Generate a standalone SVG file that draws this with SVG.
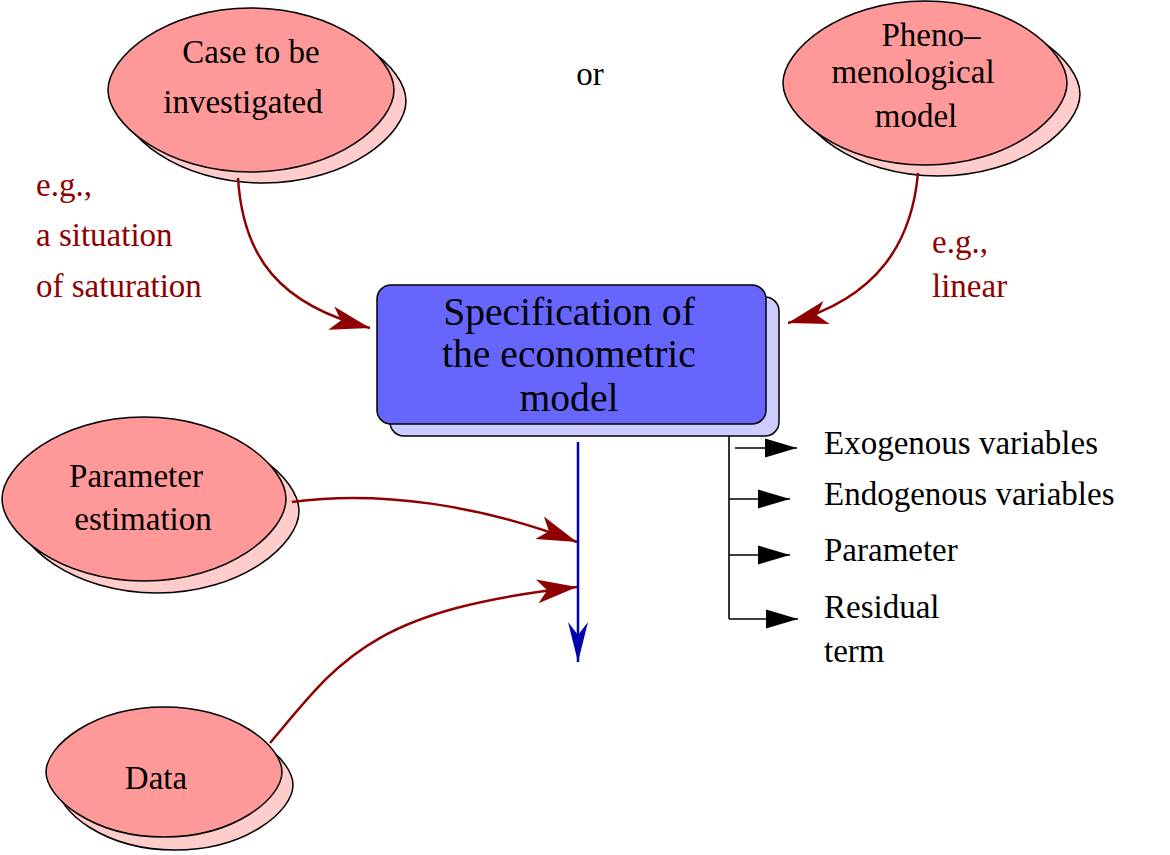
<svg xmlns="http://www.w3.org/2000/svg" width="1170" height="855" viewBox="0 0 1170 855" font-family="'Liberation Serif', 'Times New Roman', serif">
<style>
text{font-size:33px;fill:#000}
.big{font-size:39.6px}
.mid{text-anchor:middle}
.red{fill:#8f0000}
.ell{fill:#ff9999;stroke:#000;stroke-width:1.5}
.ellsh{fill:#ffcccc;stroke:#000;stroke-width:1.5}
.box{fill:#6666ff;stroke:#000;stroke-width:1.5}
.boxsh{fill:#ccccff;stroke:#000;stroke-width:1.5}
.rc{fill:none;stroke:#8f0000;stroke-width:2.5}
.bc{fill:none;stroke:#0000b0;stroke-width:2.5}
.kc{fill:none;stroke:#000;stroke-width:1.6}
</style>
<defs>
<marker id="ahRed" markerUnits="userSpaceOnUse" markerWidth="50" markerHeight="30" refX="0" refY="0" orient="auto" overflow="visible"><path d="M0,0 L-40,-12 L-30,0 L-40,12 Z" fill="#8f0000"/></marker>
<marker id="ahBlue" markerUnits="userSpaceOnUse" markerWidth="50" markerHeight="30" refX="0" refY="0" orient="auto" overflow="visible"><path d="M0,0 L-40,-10 L-27,0 L-40,10 Z" fill="#0000b0"/></marker>
<marker id="ahBlack" markerUnits="userSpaceOnUse" markerWidth="40" markerHeight="20" refX="0" refY="0" orient="auto" overflow="visible"><path d="M0,0 L-32,-9.5 L-32,9.5 Z" fill="#000"/></marker>
</defs>
<rect width="1170" height="855" fill="#fff"/>

<g id="node-case">
<path class="ellsh" transform="translate(12,11)" d="M108,90 C108,57 165,8 251,8 C337,8 394,57 394,90 C394,123 337,172 251,172 C165,172 108,123 108,90Z"/>
<path class="ell" d="M108,90 C108,57 165,8 251,8 C337,8 394,57 394,90 C394,123 337,172 251,172 C165,172 108,123 108,90Z"/>
<text class="mid" x="251" y="63">Case to be</text>
<text class="mid" x="243" y="113">investigated</text>
</g>

<g id="node-or">
<text class="mid" x="590" y="85">or</text>
</g>

<g id="node-pheno">
<path class="ellsh" transform="translate(13,11)" d="M783,83 C783,50 840,1 925,1 C1010,1 1067,50 1067,83 C1067,116 1010,165 925,165 C840,165 783,116 783,83Z"/>
<path class="ell" d="M783,83 C783,50 840,1 925,1 C1010,1 1067,50 1067,83 C1067,116 1010,165 925,165 C840,165 783,116 783,83Z"/>
<text class="mid" x="931" y="46">Pheno–</text>
<text class="mid" x="913" y="83">menological</text>
<text class="mid" x="916" y="127">model</text>
</g>

<g id="label-left">
<text class="red" x="36" y="196">e.g.,</text>
<text class="red" x="36" y="246">a situation</text>
<text class="red" x="36" y="297">of saturation</text>
</g>

<g id="label-right">
<text class="red" x="932" y="253">e.g.,</text>
<text class="red" x="932" y="297">linear</text>
</g>

<g id="node-spec">
<rect class="boxsh" x="390" y="297" width="389" height="139" rx="14"/>
<rect class="box" x="377" y="285" width="389" height="139" rx="14"/>
<text class="mid big" x="569" y="325">Specification of</text>
<text class="mid big" x="569" y="367">the econometric</text>
<text class="mid big" x="569" y="411">model</text>
</g>

<g id="node-param">
<path class="ellsh" transform="translate(13,12)" d="M2,499 C2,466 59,417 144,417 C229,417 286,466 286,499 C286,532 229,581 144,581 C59,581 2,532 2,499Z"/>
<path class="ell" d="M2,499 C2,466 59,417 144,417 C229,417 286,466 286,499 C286,532 229,581 144,581 C59,581 2,532 2,499Z"/>
<text class="mid" x="136" y="487">Parameter</text>
<text class="mid" x="143" y="530">estimation</text>
</g>

<g id="node-data">
<path class="ellsh" transform="translate(11,13)" d="M46,772 C46,746 93,707 164,707 C235,707 282,746 282,772 C282,798 235,837 164,837 C93,837 46,798 46,772Z"/>
<path class="ell" d="M46,772 C46,746 93,707 164,707 C235,707 282,746 282,772 C282,798 235,837 164,837 C93,837 46,798 46,772Z"/>
<text class="mid" x="156" y="789">Data</text>
</g>

<g id="node-outputs">
<text x="824" y="454">Exogenous variables</text>
<text x="824" y="505">Endogenous variables</text>
<text x="824" y="561">Parameter</text>
<text x="824" y="618">Residual</text>
<text x="824" y="662">term</text>
</g>

<g id="connectors">
<path class="rc" marker-end="url(#ahRed)" d="M238,178 C243,258 280,305 370,328"/>
<path class="rc" marker-end="url(#ahRed)" d="M918,173 C912,240 880,298 788,323"/>
<path class="rc" marker-end="url(#ahRed)" d="M292,502 C380,490 480,505 577,542"/>
<path class="rc" marker-end="url(#ahRed)" d="M270,743 C340,660 370,610 577,587"/>
<path class="bc" marker-end="url(#ahBlue)" d="M578,442 L578,662"/>
<path class="kc" d="M729,436 L729,619"/>
<path class="kc" marker-end="url(#ahBlack)" d="M735,448 L797,448"/>
<path class="kc" marker-end="url(#ahBlack)" d="M729,499 L790,499"/>
<path class="kc" marker-end="url(#ahBlack)" d="M729,555 L790,555"/>
<path class="kc" marker-end="url(#ahBlack)" d="M729,619 L798,619"/>
</g>
</svg>
